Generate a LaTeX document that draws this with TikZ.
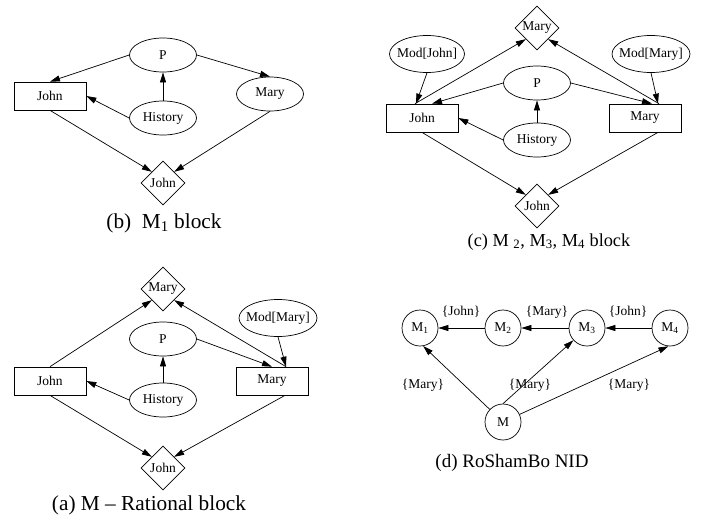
\documentclass[tikz,border=0pt]{standalone}
\usepackage{fontspec}
\setmainfont{Liberation Serif}
\usetikzlibrary{shapes.geometric,arrows.meta}
\begin{document}
\begin{tikzpicture}[x=1pt, y=-1pt, line width=0.7pt,
    >={Triangle[length=10pt,width=6pt]},
    every node/.style={font=\fontsize{13.5}{15}\selectfont},
    box/.style={draw, rectangle, minimum width=72pt, minimum height=28pt, inner sep=0pt},
    oval/.style={draw, ellipse, minimum width=67pt, minimum height=34pt, inner xsep=-5pt, inner ysep=2pt},
    dia/.style={draw, diamond, minimum width=44pt, minimum height=44pt, inner sep=0pt},
    circ/.style={draw, circle, minimum size=36pt, inner sep=0pt},
    captext/.style={font=\fontsize{#1}{#1}\selectfont}, captext/.default=19]
    \useasboundingbox (0,0) rectangle (705,520);
    % (b) M1 block
    \node[oval] (bP) at (163,55) {P};
    \node[box] (bJohn) at (50,96) {John};
    \node[oval] (bMary) at (270,94) {Mary};
    \node[oval] (bHist) at (163,118) {History};
    \node[dia] (bJohnD) at (163,183) {John};
    \node[captext=21.3] (bCap) at (164,223) {(b)\ \ M\textsubscript{1} block};
    \draw[->] (bP.west) -- (bJohn.north);
    \draw[->] (bHist) -- (bP);
    \draw[->] (bHist.west) -- (bJohn.east);
    \draw[->] (bP.east) -- (bMary.north);
    \draw[->] (bJohn.south) -- (bJohnD.north west);
    \draw[->] (bMary.south) -- (bJohnD.north east);
    % (c) M2, M3, M4 block
    \node[dia] (cMaryD) at (537,28) {Mary};
    \node[oval, minimum width=75pt, minimum height=37pt] (cModJ) at (427,54) {Mod[John]};
    \node[oval, minimum width=78pt, minimum height=37pt] (cModM) at (651,54) {Mod[Mary]};
    \node[oval] (cP) at (537,83) {P};
    \node[box] (cJohn) at (422,118) {John};
    \node[box] (cMary) at (645,118) {Mary};
    \node[oval] (cHist) at (537,140) {History};
    \node[dia] (cJohnD) at (537,206) {John};
    \node[captext=18.3] (cCap) at (549,242) {(c) M \textsubscript{2}, M\textsubscript{3}, M\textsubscript{4} block};
    \draw[->] ([xshift=-7pt]cJohn.north) -- (cMaryD.south west);
    \draw[->] ([xshift=14pt]cMary.north) -- (cMaryD.south east);
    \draw[->] (cModJ.south) -- ([xshift=-6pt]cJohn.north);
    \draw[->] (cModM.south) -- ([xshift=13pt]cMary.north);
    \draw[->] (cP.west) -- ([xshift=10pt]cJohn.north);
    \draw[->] (cP.east) -- ([xshift=7pt]cMary.north);
    \draw[->] (cHist) -- (cP);
    \draw[->] (cHist.west) -- (cJohn.east);
    \draw[->] (cJohn.south) -- (cJohnD.north west);
    \draw[->] ([xshift=13pt]cMary.south) -- (cJohnD.north east);
    % (a) M - Rational block
    \node[dia] (aMaryD) at (163,289) {Mary};
    \node[oval, minimum width=78pt, minimum height=37pt] (aModM) at (278,318) {Mod[Mary]};
    \node[oval] (aP) at (163,339) {P};
    \node[box] (aJohn) at (50,381) {John};
    \node[box] (aMary) at (272,381) {Mary};
    \node[oval] (aHist) at (163,400) {History};
    \node[dia] (aJohnD) at (163,468) {John};
    \node[captext=21.3] (aCap) at (149,505) {(a) M -- Rational block};
    \draw[->] (aJohn.north) -- (aMaryD.south west);
    \draw[->] ([xshift=14pt]aMary.north) -- (aMaryD.south east);
    \draw[->] (aModM.south) -- ([xshift=14pt]aMary.north);
    \draw[->] (aP.east) -- (aMary.north);
    \draw[->] (aHist) -- (aP);
    \draw[->] (aHist.west) -- (aJohn.east);
    \draw[->] (aJohn.south) -- (aJohnD.north west);
    \draw[->] ([xshift=13pt]aMary.south) -- (aJohnD.north east);
    % (d) RoShamBo NID
    \node[circ] (M1) at (420,328) {M\textsubscript{1}};
    \node[circ] (M2) at (503,328) {M\textsubscript{2}};
    \node[circ] (M3) at (587,328) {M\textsubscript{3}};
    \node[circ] (M4) at (670,328) {M\textsubscript{4}};
    \node[circ] (M) at (503,422) {M};
    \node (lJohnA) at (461,312) {\{John\}};
    \node (lMaryA) at (547,312) {\{Mary\}};
    \node (lJohnB) at (628,312) {\{John\}};
    \node (lMaryB) at (423,385) {\{Mary\}};
    \node (lMaryC) at (530,385) {\{Mary\}};
    \node (lMaryD) at (629,385) {\{Mary\}};
    \node[captext] (dCap) at (512,463) {(d) RoShamBo NID};
    \draw[->] (M2) -- (M1);
    \draw[->] (M3) -- (M2);
    \draw[->] (M4) -- (M3);
    \draw[->] (M) -- (M1.-80);
    \draw[->] (M.north) -- (M3);
    \draw[->] (M) -- (M4.-95);
\end{tikzpicture}
\end{document}
